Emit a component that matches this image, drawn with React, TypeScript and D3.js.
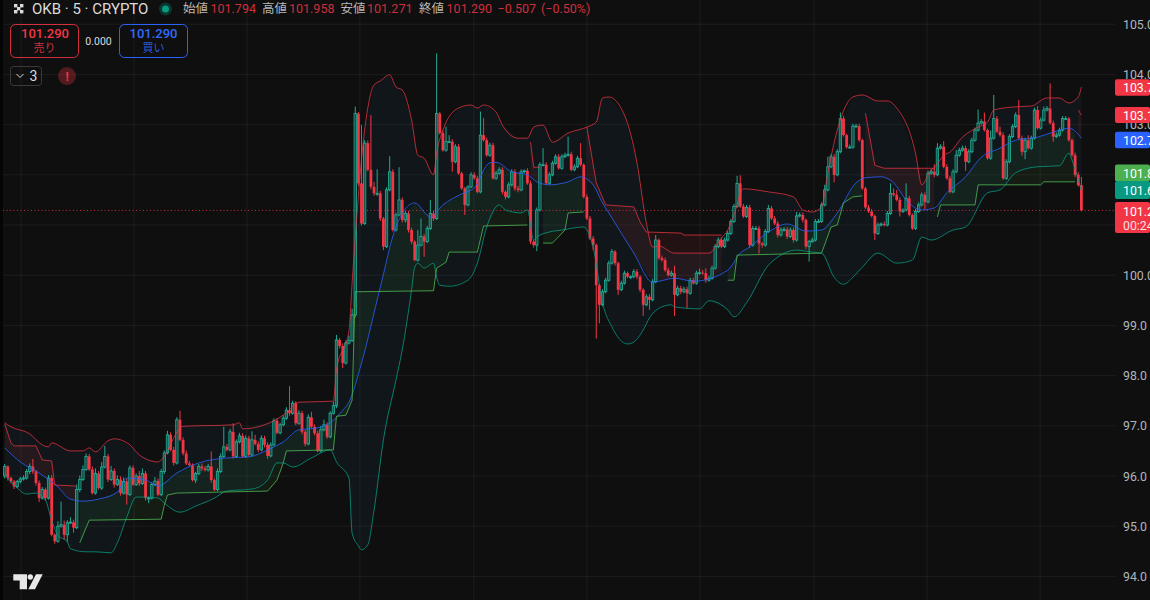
import React from "react";
import * as d3 from "d3";

type Pt = [number, number];

// candle index, price
const closes = [
  96.19,95.96,95.89,95.79,95.89,95.94,95.96,96.09,96.19,96.09,
  95.86,95.56,95.73,95.56,95.96,94.83,94.70,95.00,95.03,94.83,
  95.07,95.08,94.97,95.73,95.93,96.13,96.39,96.13,95.66,96.05,
  95.76,96.18,96.39,95.93,96.10,95.83,95.93,95.66,95.89,95.63,
  96.16,95.83,96.00,95.85,96.05,95.56,95.56,95.83,95.90,95.63,
  96.09,96.46,96.82,96.52,96.26,97.12,96.72,96.45,96.25,96.22,
  95.92,96.05,96.19,96.15,96.12,96.19,95.92,95.73,96.09,96.39,
  96.58,96.52,96.88,96.39,96.68,96.80,96.39,96.75,96.42,96.72,
  96.64,96.52,96.75,96.62,96.40,96.62,97.10,96.86,97.02,97.15,
  97.31,97.25,97.45,97.05,97.25,96.88,96.64,97.17,96.98,96.85,
  96.50,96.92,97.02,96.78,97.25,97.40,98.71,98.59,98.25,98.65,
  98.70,99.21,103.22,101.83,101.03,102.63,102.10,101.76,101.63,101.63,
  101.13,100.57,101.70,102.06,100.90,101.20,101.50,101.10,101.23,100.90,
  100.67,100.30,100.60,100.77,100.67,100.93,101.23,101.13,103.22,102.83,
  102.49,102.66,102.66,102.26,102.56,102.03,101.73,101.40,101.76,102.00,
  101.93,101.66,102.79,102.69,102.39,102.59,101.93,102.03,102.10,101.66,
  101.56,101.80,102.06,101.73,101.70,102.06,102.08,101.83,100.67,100.60,
  101.30,102.20,102.20,101.83,102.00,102.23,102.36,102.13,102.36,102.39,
  102.41,102.10,102.16,102.33,102.20,101.56,101.13,100.73,100.60,99.80,
  99.41,99.67,99.90,100.24,100.47,100.24,99.71,99.84,100.04,99.97,
  99.97,100.07,99.97,99.71,99.41,99.57,99.51,99.87,100.70,100.34,
  100.30,100.10,100.00,100.04,99.61,99.74,99.67,99.72,99.64,99.90,
  99.84,100.04,100.05,100.04,99.90,99.94,100.14,100.57,100.70,100.57,
  100.70,100.83,101.07,101.37,101.83,101.37,101.17,101.35,100.60,100.93,
  100.93,100.63,100.60,100.87,101.33,101.13,101.03,100.80,100.90,100.91,
  100.77,100.90,100.70,101.18,101.20,101.10,100.57,100.67,100.70,101.07,
  101.07,101.40,101.70,102.16,102.36,102.00,102.46,103.12,102.79,102.55,
  102.55,102.97,102.97,102.69,101.73,101.35,101.27,101.18,100.83,101.00,
  101.02,101.00,101.23,101.63,101.60,101.50,101.27,101.30,101.53,101.20,
  100.93,101.27,101.40,101.60,101.46,102.03,102.06,102.00,102.53,102.56,
  102.16,101.93,101.66,102.06,102.39,102.49,102.53,102.26,102.46,102.69,
  102.89,103.03,103.06,102.89,102.33,102.73,103.12,102.86,102.79,101.93,
  102.26,102.76,102.96,103.19,102.73,102.46,102.69,102.53,102.73,103.29,
  102.93,103.09,103.29,103.32,103.03,102.76,102.79,102.89,103.12,103.12,
  102.69,102.39,102.00,101.794,101.29,
];
const firstOpen = 96.0;

const upperWicks = [
  .05,.02,.03,.03,.03,.04,.05,.05,.06,.15,
  .03,.05,.05,.04,.06,.06,.03,.10,.46,.08,
  .05,.10,.05,.10,.08,.08,.06,.05,.06,.10,
  .05,.10,.21,.05,.10,.05,.08,.06,.08,.06,
  .05,.05,.05,.10,.10,.05,.03,.05,.08,.05,
  .05,.05,.08,.05,.06,.05,.18,.05,.06,.05,
  .03,.03,.05,.06,.05,.05,.30,.03,.06,.06,
  .40,.06,.06,.17,.05,.06,.05,.06,.05,.17,
  .10,.05,.06,.05,.05,.05,.05,.05,.04,.06,
  .06,.48,.05,.04,.06,.05,.04,.06,.11,.05,
  .05,.08,.10,.05,.04,.08,.10,.04,.05,.05,
  .10,.12,.14,.03,1.16,.06,.05,1.09,.10,.48,
  .05,.03,.05,.31,.05,.05,.65,.05,.05,.05,
  .05,.02,.30,.36,.05,.05,.27,.05,1.20,.03,
  .05,.30,.13,.05,.05,.05,.03,.03,.03,.05,
  .05,.05,.47,.34,.05,.05,.05,.05,.05,.05,
  .03,.05,.05,.05,.05,.05,.03,.05,.05,.03,
  .05,.05,.33,.05,.05,.05,.05,.05,.05,.05,
  .35,.05,.05,.05,.30,.03,.05,.05,.05,.03,
  .03,.05,.05,.05,.05,.03,.03,.05,.05,.03,
  .03,.05,.05,.03,.03,.05,.05,.05,.10,.03,
  .05,.05,.05,.05,.15,.05,.05,.05,.05,.05,
  .05,.05,.08,.05,.10,.05,.05,.05,.05,.05,
  .05,.05,.05,.05,.15,.16,.05,.05,.05,.05,
  .05,.05,.03,.05,.07,.05,.05,.05,.05,.05,
  .05,.05,.05,.08,.05,.05,.03,.03,.05,.05,
  .05,.05,.10,.20,.05,.05,.05,.12,.05,.03,
  .05,.05,.05,.05,.03,.03,.05,.05,.03,.05,
  .03,.05,.05,.20,.10,.10,.05,.03,.30,.05,
  .03,.05,.05,.05,.05,.05,.05,.15,.10,.05,
  .11,.05,.05,.05,.10,.05,.05,.05,.05,.05,
  .05,.27,.05,.18,.03,.15,.47,.05,.10,.05,
  .05,.05,.05,.05,.30,.05,.05,.10,.05,.05,
  .08,.05,.07,.05,.50,.05,.05,.05,.05,.05,
  .03,.03,.05,.05,.164,
];

const lowerWicks = [
  .05,.05,.04,.05,.03,.04,.03,.03,.05,.05,
  .05,.08,.03,.05,.03,.03,.05,.03,.03,.10,
  .15,.03,.10,.03,.05,.03,.03,.03,.03,.03,
  .03,.04,.03,.05,.03,.06,.03,.05,.03,.20,
  .03,.03,.03,.05,.03,.05,.10,.03,.03,.03,
  .03,.05,.03,.03,.05,.03,.03,.04,.03,.03,
  .03,.06,.03,.05,.03,.03,.05,.03,.03,.03,
  .03,.03,.03,.04,.03,.03,.03,.03,.04,.03,
  .03,.05,.03,.05,.06,.03,.03,.03,.03,.03,
  .03,.05,.03,.04,.03,.05,.05,.03,.03,.04,
  .03,.03,.03,.04,.03,.03,.05,.05,.10,.03,
  .03,.03,.05,.05,.04,.03,.03,.05,.05,.05,
  .05,.07,.03,.03,.03,.03,.03,.05,.05,.05,
  .05,.02,.03,.03,.30,.03,.03,.05,.03,.03,
  .03,.03,.03,.20,.03,.03,.03,.20,.03,.03,
  .03,.03,.03,.03,.03,.03,.03,.03,.03,.05,
  .05,.03,.03,.05,.05,.03,.03,.03,.05,.05,
  .12,.03,.03,.03,.03,.03,.03,.03,.03,.03,
  .03,.03,.03,.03,.03,.03,.03,.03,.10,1.06,
  .37,.03,.03,.03,.03,.05,.10,.03,.03,.03,
  .05,.03,.05,.05,.22,.03,.20,.03,.03,.03,
  .03,.03,.03,.03,.42,.03,.05,.03,.30,.03,
  .03,.03,.03,.03,.05,.03,.03,.03,.03,.03,
  .03,.03,.03,.03,.03,.03,.03,.03,.05,.03,
  .03,.20,.05,.03,.03,.03,.03,.05,.03,.03,
  .05,.03,.05,.03,.03,.05,.05,.30,.03,.03,
  .03,.03,.03,.03,.03,.15,.03,.03,.03,.03,
  .03,.03,.03,.03,.03,.03,.03,.03,.13,.03,
  .03,.03,.03,.03,.03,.03,.10,.03,.03,.03,
  .03,.03,.03,.03,.15,.03,.03,.05,.03,.03,
  .03,.03,.03,.03,.03,.03,.03,.18,.03,.03,
  .03,.03,.03,.03,.03,.03,.03,.03,.03,.03,
  .03,.03,.03,.03,.03,.08,.15,.03,.03,.03,
  .03,.03,.03,.03,.03,.10,.03,.03,.03,.03,
  .03,.03,.05,.03,.019,
];

const upperBand: Pt[] = [
  [0,97.06],[2,96.98],[8,96.84],[12,96.62],[14,96.58],[15,96.66],[21,96.50],[25,96.50],[27,96.56],[29,96.48],
  [33,96.70],[35,96.74],[40,96.62],[43,96.42],[49,96.28],[50,96.32],[57,96.99],[73,97.02],[75,97.06],[76,96.94],
  [86,97.10],[90,97.26],[94,97.47],[105,97.49],[106,98.11],[110,98.89],[111,99.85],[115,102.89],[118,103.79],[120,103.87],
  [123,103.99],[125,103.75],[127,103.69],[130,103.09],[132,102.39],[134,102.33],[137,102.00],[138,102.43],[140,102.89],[145,103.33],
  [149,103.39],[151,103.33],[153,103.39],[157,103.25],[159,102.99],[164,102.73],[167,102.73],[169,102.95],[172,102.99],[175,102.65],
  [180,102.83],[186,102.95],[189,103.05],[191,103.53],[193,103.55],[198,103.19],[202,102.24],[205,101.04],[207,100.56],[209,100.58],
  [214,100.44],[225,100.44],[229,100.74],[231,100.90],[233,101.20],[236,101.72],[244,101.66],[252,101.56],[255,101.30],[258,101.26],
  [261,101.36],[263,102.04],[266,102.89],[271,103.55],[274,103.59],[279,103.47],[282,103.47],[285,103.33],[291,102.43],[293,101.80],
  [296,102.10],[297,102.14],[300,102.39],[302,102.45],[306,102.75],[311,102.95],[314,103.05],[316,103.29],[322,103.35],[328,103.37],
  [333,103.53],[337,103.53],[340,103.43],[343,103.55],[344,103.75],
];

const lowerBand: Pt[] = [
  [0,96.06],[2,95.88],[4,95.76],[7,95.64],[10,95.66],[13,95.52],[15,95.12],[17,94.82],[20,94.69],[21,94.55],
  [26,94.49],[29,94.49],[34,94.47],[36,94.67],[39,95.18],[42,95.58],[44,95.58],[49,95.56],[51,95.46],[56,95.28],
  [61,95.40],[67,95.56],[71,95.70],[79,95.74],[84,95.92],[87,96.26],[89,96.26],[92,96.18],[98,96.36],[104,96.52],
  [106,96.28],[110,95.96],[111,94.86],[113,94.61],[114,94.53],[116,94.63],[118,95.32],[121,96.72],[125,97.91],[127,98.51],
  [130,99.71],[131,100.16],[132,100.24],[134,100.14],[137,100.24],[138,99.96],[139,99.80],[142,99.78],[148,99.90],[151,100.24],
  [154,100.96],[158,101.40],[160,101.30],[165,101.24],[167,101.30],[169,100.70],[170,100.76],[174,100.86],[178,100.90],[185,100.96],
  [188,100.56],[191,99.45],[194,98.97],[199,98.63],[201,98.67],[204,98.91],[206,99.15],[210,99.37],[213,99.41],[214,99.37],
  [222,99.33],[225,99.49],[231,99.31],[233,99.17],[237,99.45],[244,100.20],[247,100.36],[253,100.50],[258,100.46],[261,100.44],
  [265,99.96],[268,99.82],[271,99.96],[274,100.16],[279,100.44],[285,100.24],[290,100.30],[293,100.76],[296,100.70],[303,100.90],
  [307,100.96],[314,101.64],[318,101.70],[323,102.04],[330,102.16],[337,102.18],[340,102.43],[341,102.29],[344,101.68],
];

const basisLine: Pt[] = [
  [0,96.56],[5,96.28],[11,96.06],[17,95.78],[21,95.54],[25,95.50],[30,95.54],[36,95.68],[39,95.96],[45,95.92],
  [49,95.80],[55,96.06],[62,96.26],[71,96.36],[78,96.38],[84,96.52],[89,96.68],[94,96.92],[100,96.96],[104,97.06],
  [108,97.31],[110,97.47],[114,98.25],[120,99.76],[125,100.96],[131,101.44],[136,101.16],[140,101.40],[146,101.62],[150,101.74],
  [155,102.24],[157,102.25],[162,102.06],[167,102.00],[170,101.86],[174,101.80],[180,101.86],[184,101.96],[188,101.80],[191,101.44],
  [193,101.24],[201,100.44],[207,99.86],[214,99.94],[220,99.88],[231,100.10],[235,100.44],[238,100.56],[244,100.86],[250,101.02],
  [256,100.88],[261,100.90],[266,101.24],[272,101.84],[275,101.94],[280,101.96],[284,101.84],[288,101.50],[293,101.30],[297,101.34],
  [301,101.64],[307,101.96],[312,102.35],[318,102.53],[323,102.69],[330,102.75],[335,102.85],[340,102.93],[344,102.73],
];

const trendRed1: Pt[] = [[0,97.04],[2,96.66],[3,96.60],[10,96.60],[12,96.32],[15,96.30],[16,95.82],[23,95.80]];
const trendGreen1: Pt[] = [
  [24,94.67],[27,95.12],[50,95.14],[51,95.42],[52,95.62],[55,95.66],[84,95.70],[87,95.92],[89,96.26],[90,96.50],
  [105,96.52],[106,97.19],[109,97.21],[111,97.51],[112,99.67],[137,99.69],[138,100.14],[141,100.26],[142,100.46],[151,100.46],
  [153,100.98],[167,101.00],
];
const trendRed2: Pt[] = [[168,102.65],[169,102.15],[171,102.15]];
const trendGreen2: Pt[] = [[172,100.64],[175,100.64],[179,100.90],[180,101.24],[185,101.26]];
const trendRed3: Pt[] = [[186,102.95],[189,101.84],[192,101.40],[201,101.36],[203,101.06],[205,100.86],[216,100.84],[217,100.80],[229,100.80]];
const trendGreen3: Pt[] = [[231,99.90],[233,99.90],[234,100.40],[261,100.44],[264,100.96],[266,101.00],[268,101.44],[271,101.56],[274,101.58]];
const trendRed4: Pt[] = [[275,103.23],[278,102.19],[281,102.13],[297,102.13]];
const trendGreen4: Pt[] = [[298,101.16],[299,101.40],[310,101.40],[311,101.80],[331,101.80],[332,101.86],[342,101.86]];
const trendRed5: Pt[] = [[343,103.29],[344,103.19]];

const redTrends = [trendRed1, trendRed2, trendRed3, trendRed4, trendRed5];
const greenTrends = [trendGreen1, trendGreen2, trendGreen3, trendGreen4];

const priceTicks = [94, 95, 96, 97, 98, 99, 100, 101, 102, 103, 104, 105];
const timeTicks = [5.2, 41.3, 77.4, 113.5, 149.9, 186, 222.1, 258.6, 294.7, 330.8];

const headerLabels = [
  { t: "始値", x: 183 }, { t: "高値", x: 262 }, { t: "安値", x: 340.6 }, { t: "終値", x: 419 },
];
const headerValues = [
  { t: "101.794", x: 210.5 }, { t: "101.958", x: 289 }, { t: "101.271", x: 367 }, { t: "101.290", x: 446.6 },
  { t: "−0.507", x: 497.5 }, { t: "(−0.50%)", x: 541 },
];

const W = 1150;
const H = 600;
const plotRight = 1115;
const RED = "#f23645";
const TEAL = "#22ab94";
const FONT = "Roboto, 'Noto Sans CJK JP', sans-serif";

const x = d3.scaleLinear().domain([0, 344]).range([4.7, 1081.4]);
const y = d3.scaleLinear().domain([94, 105]).range([576.4, 24.2]);

const interp = (pts: Pt[]) =>
  d3.scaleLinear().domain(pts.map((d) => d[0])).range(pts.map((d) => d[1]));

const basisAt = interp(basisLine);
const upperAt = interp(upperBand);
const lowerAt = interp(lowerBand);

const bandLine = d3
  .line<Pt>()
  .x((d) => x(d[0]))
  .y((d) => y(d[1]))
  .curve(d3.curveMonotoneX);

const stepLine = d3
  .line<Pt>()
  .x((d) => x(d[0]))
  .y((d) => y(d[1]));

const allIdx = d3.range(0, 345);
const bandFill = d3
  .area<number>()
  .x((i) => x(i))
  .y0((i) => y(lowerAt(i)))
  .y1((i) => y(upperAt(i)))(allIdx) as string;

const trendFill = (pts: Pt[]) => {
  const at = interp(pts);
  const idx = d3.range(pts[0][0], pts[pts.length - 1][0] + 1);
  return d3
    .area<number>()
    .x((i) => x(i))
    .y0((i) => y(at(i)))
    .y1((i) => y(basisAt(i)))(idx) as string;
};

const candles = closes.map((c, i) => {
  const o = i === 0 ? firstOpen : closes[i - 1];
  return {
    i,
    o,
    c,
    h: Math.max(o, c) + upperWicks[i],
    l: Math.min(o, c) - lowerWicks[i],
  };
});

function Tag({ label, py, color, h }: { label: string; py: number; color: string; h: number }) {
  return (
    <g>
      <rect x={plotRight} y={py - h / 2} width={W - plotRight} height={h} rx={2} fill={color} />
      <text x={1123} y={py + 4.5} fill="#fff" fontSize={12.3} fontFamily={FONT}>
        {label}
      </text>
    </g>
  );
}

export default function App() {
  return (
    <svg
      width={W}
      height={H}
      style={{ position: "fixed", left: 0, top: 0, display: "block" }}
    >
      <rect width={W} height={H} fill="#0f0f0f" />
      <rect width={3} height={H} fill="#050505" />

      <g stroke="#ffffff" strokeOpacity={0.06}>
        {priceTicks.map((p) => (
          <line key={p} x1={3} x2={plotRight} y1={y(p)} y2={y(p)} />
        ))}
        {timeTicks.map((t) => (
          <line key={t} x1={x(t)} x2={x(t)} y1={0} y2={H} />
        ))}
      </g>

      <path d={bandFill} fill="#2196f3" fillOpacity={0.05} />
      {greenTrends.map((s, k) => (
        <path key={k} d={trendFill(s)} fill="#4caf50" fillOpacity={0.085} />
      ))}
      {redTrends.map((s, k) => (
        <path key={k} d={trendFill(s)} fill={RED} fillOpacity={0.09} />
      ))}

      <line
        x1={3}
        x2={plotRight}
        y1={y(101.29)}
        y2={y(101.29)}
        stroke={RED}
        strokeOpacity={0.8}
        strokeDasharray="1 2.5"
      />

      <g>
        {candles.map((d) => {
          const up = d.c >= d.o;
          const color = up ? TEAL : RED;
          const top = y(Math.max(d.o, d.c));
          const bottom = y(Math.min(d.o, d.c));
          return (
            <g key={d.i}>
              <line x1={x(d.i)} x2={x(d.i)} y1={y(d.h)} y2={y(d.l)} stroke={color} strokeWidth={1} />
              {up ? (
                <rect
                  x={x(d.i) - 1.15}
                  y={top}
                  width={2.3}
                  height={Math.max(bottom - top, 0.8)}
                  fill="#0f0f0f"
                  fillOpacity={0.45}
                  stroke={color}
                  strokeWidth={0.9}
                />
              ) : (
                <rect
                  x={x(d.i) - 1.4}
                  y={top}
                  width={2.8}
                  height={Math.max(bottom - top, 0.8)}
                  fill={color}
                />
              )}
            </g>
          );
        })}
      </g>

      <g fill="none" strokeWidth={1}>
        <path d={bandLine(upperBand) as string} stroke="#f23645" strokeOpacity={0.72} />
        <path d={bandLine(lowerBand) as string} stroke="#089981" strokeOpacity={0.8} />
        <path d={bandLine(basisLine) as string} stroke="#2962ff" strokeOpacity={0.8} />
        {redTrends.map((s, k) => (
          <path key={k} d={stepLine(s) as string} stroke="#f23645" strokeOpacity={0.72} />
        ))}
        {greenTrends.map((s, k) => (
          <path key={k} d={stepLine(s) as string} stroke="#4caf50" strokeOpacity={0.85} />
        ))}
      </g>

      {/* right price scale, the window cuts these at the edge */}
      {priceTicks.map((p) => (
        <text key={p} x={1123} y={y(p) + 4.5} fill="#b2b5be" fontSize={12.3} fontFamily={FONT}>
          {p.toFixed(1)}
        </text>
      ))}
      <Tag label="103.7" py={87.5} color={RED} h={16.5} />
      <Tag label="103.1" py={115} color={RED} h={16} />
      <Tag label="102.7" py={140} color="#2962ff" h={16.5} />
      <Tag label="101.8" py={173} color="#4caf50" h={16.8} />
      <Tag label="101.6" py={190} color="#089981" h={18} />
      <g>
        <rect x={plotRight} y={202} width={W - plotRight} height={31} rx={2} fill={RED} />
        <text x={1123} y={215.5} fill="#fff" fontSize={12.3} fontFamily={FONT}>
          101.2
        </text>
        <text x={1123} y={230} fill="#fff" fillOpacity={0.85} fontSize={12.3} fontFamily={FONT}>
          00:24
        </text>
      </g>

      {/* header */}
      <g fill="#dbdbdb">
        <rect x={14} y={4} width={3.4} height={3.4} />
        <rect x={20} y={4} width={3.4} height={3.4} />
        <rect x={17} y={7} width={3.4} height={3.4} />
        <rect x={14} y={10} width={3.4} height={3.4} />
        <rect x={20} y={10} width={3.4} height={3.4} />
      </g>
      <text x={32} y={14} fill="#dbdbdb" fontSize={15} fontFamily={FONT}>
        OKB · 5 · CRYPTO
      </text>
      <circle cx={165.5} cy={9} r={6.5} fill="#089981" fillOpacity={0.28} />
      <circle cx={165.5} cy={9} r={3.5} fill="#089981" />
      {headerLabels.map((d) => (
        <text key={d.t} x={d.x} y={13} fill="#b8b8b8" fontSize={12.5} fontFamily={FONT}>
          {d.t}
        </text>
      ))}
      {headerValues.map((d) => (
        <text key={d.t} x={d.x} y={13} fill={RED} fillOpacity={0.85} fontSize={12.5} fontFamily={FONT}>
          {d.t}
        </text>
      ))}

      {/* order buttons */}
      <rect x={10.5} y={24.5} width={68} height={33} rx={5} fill="none" stroke={RED} strokeOpacity={0.85} />
      <text x={45} y={38} textAnchor="middle" fill={RED} fontSize={13} fontWeight={500} fontFamily={FONT}>
        101.290
      </text>
      <text x={44.5} y={52} textAnchor="middle" fill={RED} fillOpacity={0.85} fontSize={11} fontFamily={FONT}>
        売り
      </text>
      <text x={98.5} y={44.5} textAnchor="middle" fill="#dbdbdb" fontSize={10.5} fontFamily={FONT}>
        0.000
      </text>
      <rect x={119.5} y={24.5} width={68} height={33} rx={5} fill="none" stroke="#2962ff" />
      <text x={153.5} y={38} textAnchor="middle" fill="#2f6bff" fontSize={13} fontWeight={500} fontFamily={FONT}>
        101.290
      </text>
      <text x={153.5} y={52} textAnchor="middle" fill="#2f6bff" fillOpacity={0.85} fontSize={11} fontFamily={FONT}>
        買い
      </text>

      <rect x={10.5} y={66.5} width={31} height={19} rx={3} fill="none" stroke="#3a3a3a" />
      <path d="M16.5 74 L20 77.5 L23.5 74" fill="none" stroke="#dbdbdb" />
      <text x={29.5} y={81} fill="#dbdbdb" fontSize={14} fontFamily={FONT}>
        3
      </text>
      <circle cx={67} cy={76} r={9} fill={RED} fillOpacity={0.3} />
      <text x={67} y={80.5} textAnchor="middle" fill={RED} fontWeight={700} fontSize={12} fontFamily={FONT}>
        !
      </text>

      {/* logo */}
      <g fill="#e8e8e8">
        <path d="M13.3 574.3 H27 V589.3 H19.7 V580.5 H13.3 Z" />
        <circle cx={30.3} cy={577} r={2.7} />
        <path d="M36 574.3 H42.7 L35 589.3 H28.3 Z" />
      </g>
    </svg>
  );
}
